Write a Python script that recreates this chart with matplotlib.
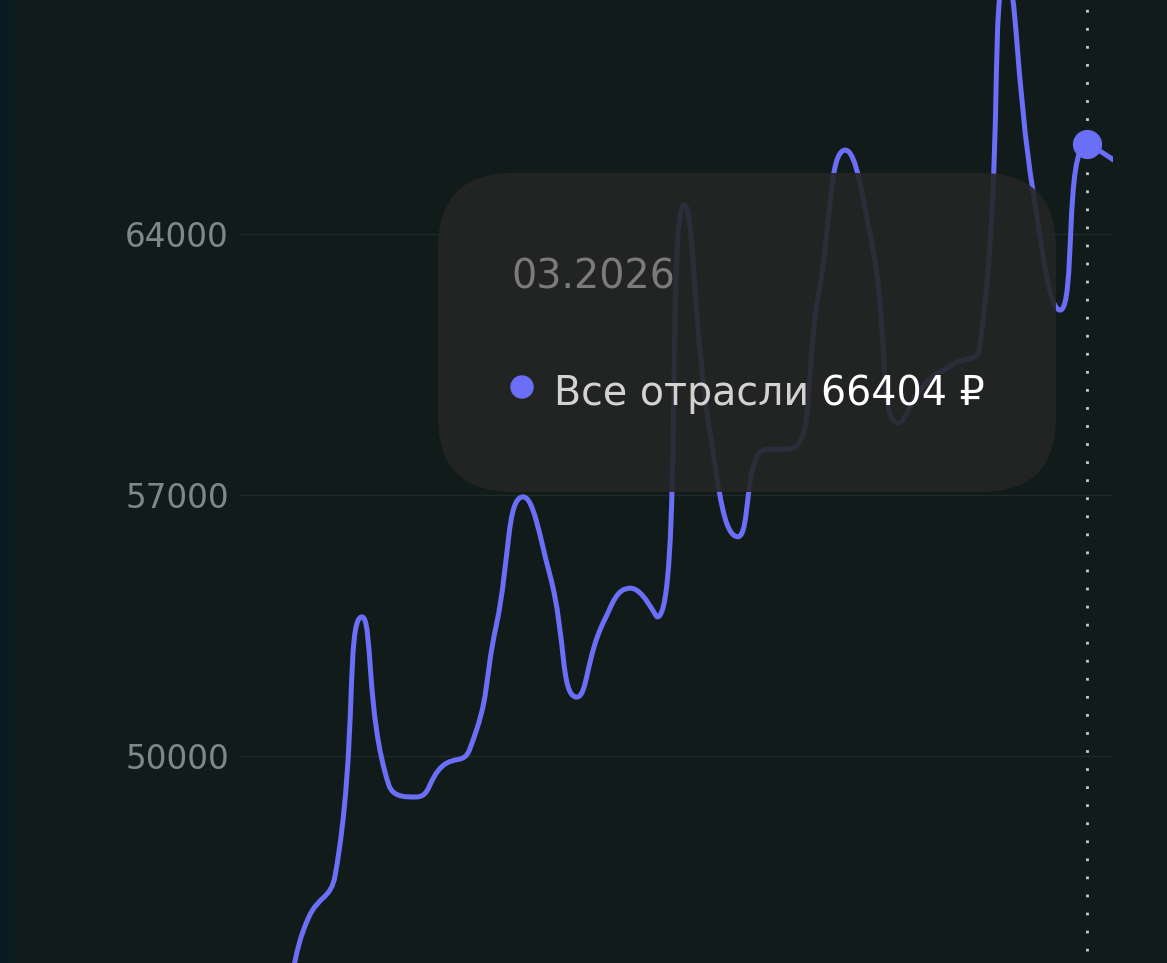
import numpy as np
import pandas as pd
import matplotlib
matplotlib.use('Agg')
import matplotlib.pyplot as plt
from matplotlib.path import Path
from matplotlib.patches import PathPatch, FancyBboxPatch, Circle, Rectangle

plt.rcParams['font.family'] = 'DejaVu Sans'

# monthly points, 08.2023 .. 04.2026
months = list(pd.period_range('2023-08', '2026-04', freq='M').strftime('%m.%Y'))
salary = [42800, 43500, 45650, 46800, 53730, 49220, 48900, 49730, 50160, 53500,
          56950, 54850, 51580, 53600, 54500, 53730, 64780, 58480, 55880, 58210,
          58240, 62360, 66250, 63700, 58930, 60000, 60500, 60950, 70900, 65100,
          61960, 66404, 65980]
yticks = [50000, 57000, 64000]
series_name = 'Все отрасли'
tip_month = '03.2026'

BG = '#111c1a'
LINE = '#6b6ef6'


# echarts-like smooth bezier (control points clamped between neighbours)
def smooth_path(px, py, smooth=0.5):
    n = len(px)
    verts = [(px[0], py[0])]
    codes = [Path.MOVETO]
    cp0 = (px[0], py[0])
    for i in range(1, n):
        x, y = px[i], py[i]
        prev_x, prev_y = px[i - 1], py[i - 1]
        if i == n - 1:
            cp1 = (x, y)
            nxt = (x, y)
        else:
            nx, ny = px[i + 1], py[i + 1]
            vx, vy = nx - prev_x, ny - prev_y
            len_prev = np.hypot(x - prev_x, y - prev_y)
            len_next = np.hypot(nx - x, ny - y)
            ratio = len_next / (len_next + len_prev)
            ncx = x + vx * smooth * ratio
            ncy = y + vy * smooth * ratio
            ncx = min(max(ncx, min(nx, x)), max(nx, x))
            ncy = min(max(ncy, min(ny, y)), max(ny, y))
            vx, vy = ncx - x, ncy - y
            c1x = x - vx * len_prev / len_next
            c1y = y - vy * len_prev / len_next
            c1x = min(max(c1x, min(prev_x, x)), max(prev_x, x))
            c1y = min(max(c1y, min(prev_y, y)), max(prev_y, y))
            vx, vy = x - c1x, y - c1y
            ncx = x + vx * len_next / len_prev
            ncy = y + vy * len_next / len_prev
            cp1 = (c1x, c1y)
            nxt = (ncx, ncy)
        verts += [cp0, cp1, (x, y)]
        codes += [Path.CURVE4] * 3
        cp0 = nxt
    return np.array(verts), codes


W, H = 1167, 963
fig = plt.figure(figsize=(W / 100, H / 100), dpi=100, facecolor=BG)
ax = fig.add_axes([240 / W, 0, (1113 - 240) / W, 1])
ax.set_facecolor(BG)

xs = np.arange(len(months))
i0 = months.index('12.2023')
step = (1087 - 362) / 27
ax.set_xlim(i0 - (362 - 240) / step, i0 + (1113 - 362) / step)
ax.set_ylim(44448, 70276)

ax.set_yticks(yticks)
ax.set_yticklabels([str(v) for v in yticks])
ax.set_xticks([])
ax.tick_params(axis='y', length=0, pad=8, labelsize=23.5, labelcolor='#7d8986')
ax.grid(axis='y', color='#1f2b28', lw=1)
for s in ax.spines.values():
    s.set_visible(False)

# smooth line built in pixel space, then brought back to data space
disp = ax.transData.transform(np.column_stack([xs, salary]))
verts, codes = smooth_path(disp[:, 0], disp[:, 1])
verts = ax.transData.inverted().transform(verts)
ax.add_patch(PathPatch(Path(verts, codes), fill=False, edgecolor=LINE, lw=3.6,
                       capstyle='round', joinstyle='round', zorder=3))

it = months.index(tip_month)
ax.axvline(it, ymin=0.012, ymax=1, color='#c5cccb', lw=2, dashes=(1, 5.5), zorder=2)
ax.plot([it], [salary[it]], 'o', ms=20, color=LINE, mec=LINE, zorder=4)

# left dark strip
fig.add_artist(Rectangle((0, 0), 12 / W, 1, transform=fig.transFigure,
                         color='#0b1b22', zorder=5))

# tooltip
tr = fig.dpi_scale_trans
fig.add_artist(FancyBboxPatch((4.38, (H - 492) / 100), 6.18, 3.19,
                              boxstyle='round,pad=0,rounding_size=0.75',
                              transform=tr, fc='#252525', ec='none', alpha=0.9, zorder=6))
fig.text(5.11, (H - 288) / 100, tip_month, transform=tr, fontsize=28.5,
         color='#7b7b7b', va='baseline', ha='left', zorder=7)
fig.add_artist(Circle((5.22, (H - 387) / 100), 0.11, transform=tr, color=LINE, zorder=7))
lab = fig.text(5.54, (H - 405) / 100, series_name, transform=tr, fontsize=28.5,
               color='#d2d2d2', va='baseline', ha='left', zorder=7)
fig.text(8.21, (H - 405) / 100, f'{salary[it]} ₽', transform=tr, fontsize=28.5,
         color='#ffffff', va='baseline', ha='left', zorder=7)

fig.savefig('out.png', dpi=100, facecolor=BG)
